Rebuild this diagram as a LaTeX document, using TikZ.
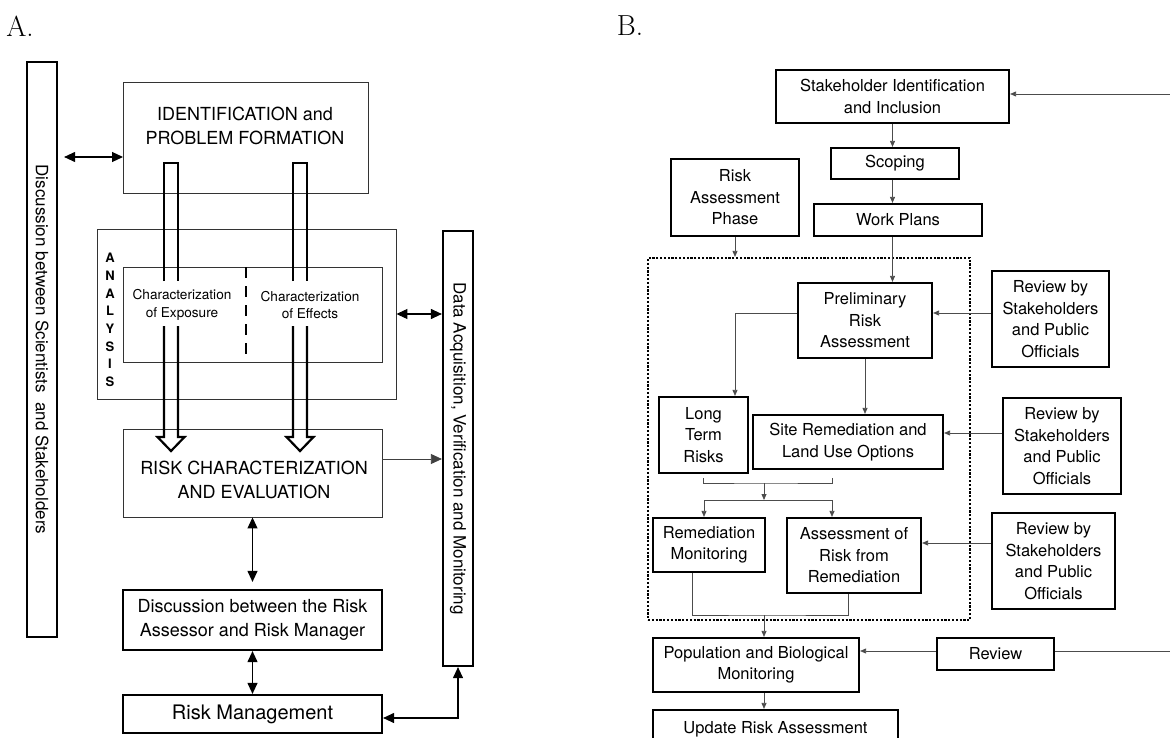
\documentclass[tikz,border=0pt]{standalone}
\usepackage{fontspec}
\setsansfont{TeX Gyre Heros}
\usetikzlibrary{arrows.meta, positioning, calc}

\begin{document}
\begin{tikzpicture}[x=1pt, y=-1pt,
    boxthin/.style={draw=black!80, line width=0.9pt, inner sep=0pt},
    boxthick/.style={draw=black, line width=2.2pt, inner sep=0pt},
    fbig/.style={font=\sffamily\fontsize{18}{23.5}\selectfont, align=center},
    fsmall/.style={font=\sffamily\fontsize{13.6}{17.7}\selectfont, align=center},
    fbar/.style={font=\sffamily\fontsize{17}{20}\selectfont, rotate=-90},
    fB/.style={font=\sffamily\fontsize{16.5}{21.5}\selectfont, align=center},
    dblA/.style={line width=1.1pt, {Triangle[length=11pt,width=10pt]}-{Triangle[length=11pt,width=10pt]}},
    arA/.style={line width=0.8pt, draw=black!75, -{Triangle[length=11pt,width=10pt]}},
    lnB/.style={line width=0.8pt, draw=black!70},
    arB/.style={lnB, -{Triangle[length=6pt,width=5pt]}},
    hollow/.style={line width=2.2pt, line join=miter}
  ]
  \useasboundingbox (0,0) rectangle (1170,738);

  % Panel letters
  \node[font=\fontsize{29}{29}\selectfont] (labA) at (20,26) {A.};
  \node[font=\fontsize{29}{29}\selectfont] (labB) at (630,26) {B.};

  %%% Panel A
  % Side bars
  \node[boxthick, minimum width=30, minimum height=575] (discbar) at (42,349.5) {};
  \node[fbar] (disctxt) at (discbar.center) {Discussion between Scientists~ and Stakeholders};
  \node[boxthick, minimum width=30, minimum height=435] (databar) at (458,448.5) {};
  \node[fbar] (datatxt) at (databar.center) {Data Acquisition, Verification and Monitoring};

  % Boxes
  \node[boxthin, minimum width=245, minimum height=111] (ident) at (245.5,137.5) {};
  \node[fbig] (identtxt) at (245,126) {IDENTIFICATION and\\PROBLEM FORMATION};
  \node[boxthin, minimum width=299, minimum height=170] (analysis) at (246.5,314) {};
  \node[boxthin, minimum width=259, minimum height=95] (inner) at (252.5,314.5) {};
  \node[fsmall] (charexp) at (182,305) {Characterization\\of Exposure};
  \node[fsmall] (chareff) at (310,305) {Characterization\\of Effects};
  \foreach \l [count=\i from 0] in {A,N,A,L,Y,S,I,S}
    \node[font=\sffamily\bfseries\fontsize{13}{13}\selectfont] (ana\i) at (110,258+17.7*\i) {\l};
  \draw[line width=2.6pt, dash pattern=on 11pt off 8pt] (246,267) -- (246,355);
  \node[boxthin, minimum width=259, minimum height=88] (riskchar) at (252.5,473) {};
  \node[fbig] (riskchartxt) at (254,480) {RISK CHARACTERIZATION\\AND EVALUATION};
  \node[boxthick, minimum width=259, minimum height=60, fbig] (discrm) at (252.5,620)
    {Discussion between the Risk\\Assessor and Risk Manager};
  \node[boxthick, minimum width=259, minimum height=38, fbig, font=\sffamily\fontsize{20}{24}\selectfont]
    (riskman) at (252.5,714) {Risk Management};

  % Hollow arrows
  \foreach \cx in {171,300} {
    \draw[hollow] (\cx-7,281) -- (\cx-7,163) -- (\cx+7,163) -- (\cx+7,281);
    \draw[hollow] (\cx-7,326) -- (\cx-7,437) -- (\cx-13.5,437) -- (\cx,451)
      -- (\cx+13.5,437) -- (\cx+7,437) -- (\cx+7,326);
  }

  % Connectors A
  \coordinate (ia) at (123,157);
  \coordinate (ra) at (382,459);
  \draw[dblA] ([xshift=6pt]discbar.east |- ia) -- (ia);
  \draw[dblA] (analysis.east) -- (analysis.east -| databar.west);
  \draw[arA] (ra) -- (ra -| databar.west);
  \draw[dblA, shorten >=7pt] (riskchar.south) -- (discrm.north);
  \draw[dblA] (discrm.south) -- (riskman.north);
  \draw[dblA] ([yshift=-4pt]riskman.east) -| (databar.south);

  %%% Panel B
  \node[boxthick, minimum width=233, minimum height=53, fB] (stake) at (892.5,96.5)
    {Stakeholder Identification\\and Inclusion};
  \node[boxthick, minimum width=128, minimum height=31, fB] (scoping) at (895,163.5) {Scoping};
  \node[boxthick, minimum width=168, minimum height=32, fB] (workp) at (898,220) {Work Plans};
  \node[boxthick, minimum width=128, minimum height=77, fB] (rap) at (735,197.5)
    {Risk\\Assessment\\Phase};
  \node[draw, line width=2.2pt, dash pattern=on 2.2pt off 1.6pt, minimum width=322,
    minimum height=362, inner sep=0pt] (dotted) at (809,439) {};
  \node[boxthick, minimum width=134, minimum height=75, fB] (prelim) at (865,320.5)
    {Preliminary\\Risk\\Assessment};
  \node[boxthick, minimum width=117, minimum height=96, fB] (rev1) at (1050.5,319)
    {Review by\\Stakeholders\\and Public\\Officials};
  \node[boxthick, minimum width=89, minimum height=76, fB] (longt) at (703.5,435)
    {Long\\Term\\Risks};
  \node[boxthick, minimum width=190, minimum height=54, fB] (siterem) at (848,442)
    {Site Remediation and\\Land Use Options};
  \node[boxthick, minimum width=118, minimum height=96, fB] (rev2) at (1062,446)
    {Review by\\Stakeholders\\and Public\\Officials};
  \node[boxthick, minimum width=112, minimum height=54, fB] (remmon) at (709,545)
    {Remediation\\Monitoring};
  \node[boxthick, minimum width=134, minimum height=75, fB] (assrisk) at (854,555.5)
    {Assessment of\\Risk from\\Remediation};
  \node[boxthick, minimum width=123, minimum height=96, fB] (rev3) at (1053.5,561)
    {Review by\\Stakeholders\\and Public\\Officials};
  \node[boxthick, minimum width=206, minimum height=54, fB] (popbio) at (756,665)
    {Population and Biological\\Monitoring};
  \node[boxthick, minimum width=117, minimum height=32, fB] (review) at (995.5,654) {Review};
  \node[boxthick, minimum width=245, minimum height=38, fB] (update) at (775.5,729)
    {Update Risk Assessment};

  % Connectors B
  \coordinate (inS) at (1170,94);
  \coordinate (inR) at (1170,651);
  \coordinate (mergeA) at (764,483);
  \coordinate (splitA) at (764,500);
  \coordinate (mergeB) at (764,615);
  \draw[arB] (inS) -- (inS -| stake.east);
  \draw[arB] (stake.south) -- (stake.south |- scoping.north);
  \draw[arB] (stake.south |- scoping.south) -- (stake.south |- workp.north);
  \draw[arB] (rap.south) -- (rap.south |- dotted.north);
  \draw[arB] (stake.south |- workp.south) -- (stake.south |- prelim.north);
  \draw[arB] ([yshift=6pt]rev1.west) -- ([yshift=6pt]rev1.west -| prelim.east);
  \draw[arB] ([yshift=7pt]prelim.west) -| (longt.north -| rap.south);
  \draw[arB] (prelim.south) -- (prelim.south |- siterem.north);
  \draw[arB] ([yshift=9pt]siterem.east -| rev2.west) -- ([yshift=9pt]siterem.east);
  \draw[lnB] ([yshift=-4pt]longt.south) |- (mergeA) -| ([xshift=-16pt, yshift=-8pt]siterem.south);
  \draw[arB] (mergeA) -- (splitA);
  \draw[arB] (splitA) -| ([xshift=-5pt]remmon.north);
  \draw[arB] (splitA) -| ([xshift=-22pt]assrisk.north);
  \draw[arB] ([yshift=12.5pt]assrisk.east -| rev3.west) -- ([yshift=12.5pt]assrisk.east);
  \draw[lnB] ([xshift=-17pt]remmon.south) |- (mergeB) -| ([xshift=-6pt]assrisk.south);
  \draw[arB] (mergeB) -- (mergeB |- popbio.north);
  \draw[lnB] (inR) -- (inR -| review.east);
  \draw[arB] ([yshift=3pt]review.west) -- ([yshift=3pt]review.west -| popbio.east);
  \draw[arB] (mergeB |- popbio.south) -- (mergeB |- update.north);
\end{tikzpicture}
\end{document}
